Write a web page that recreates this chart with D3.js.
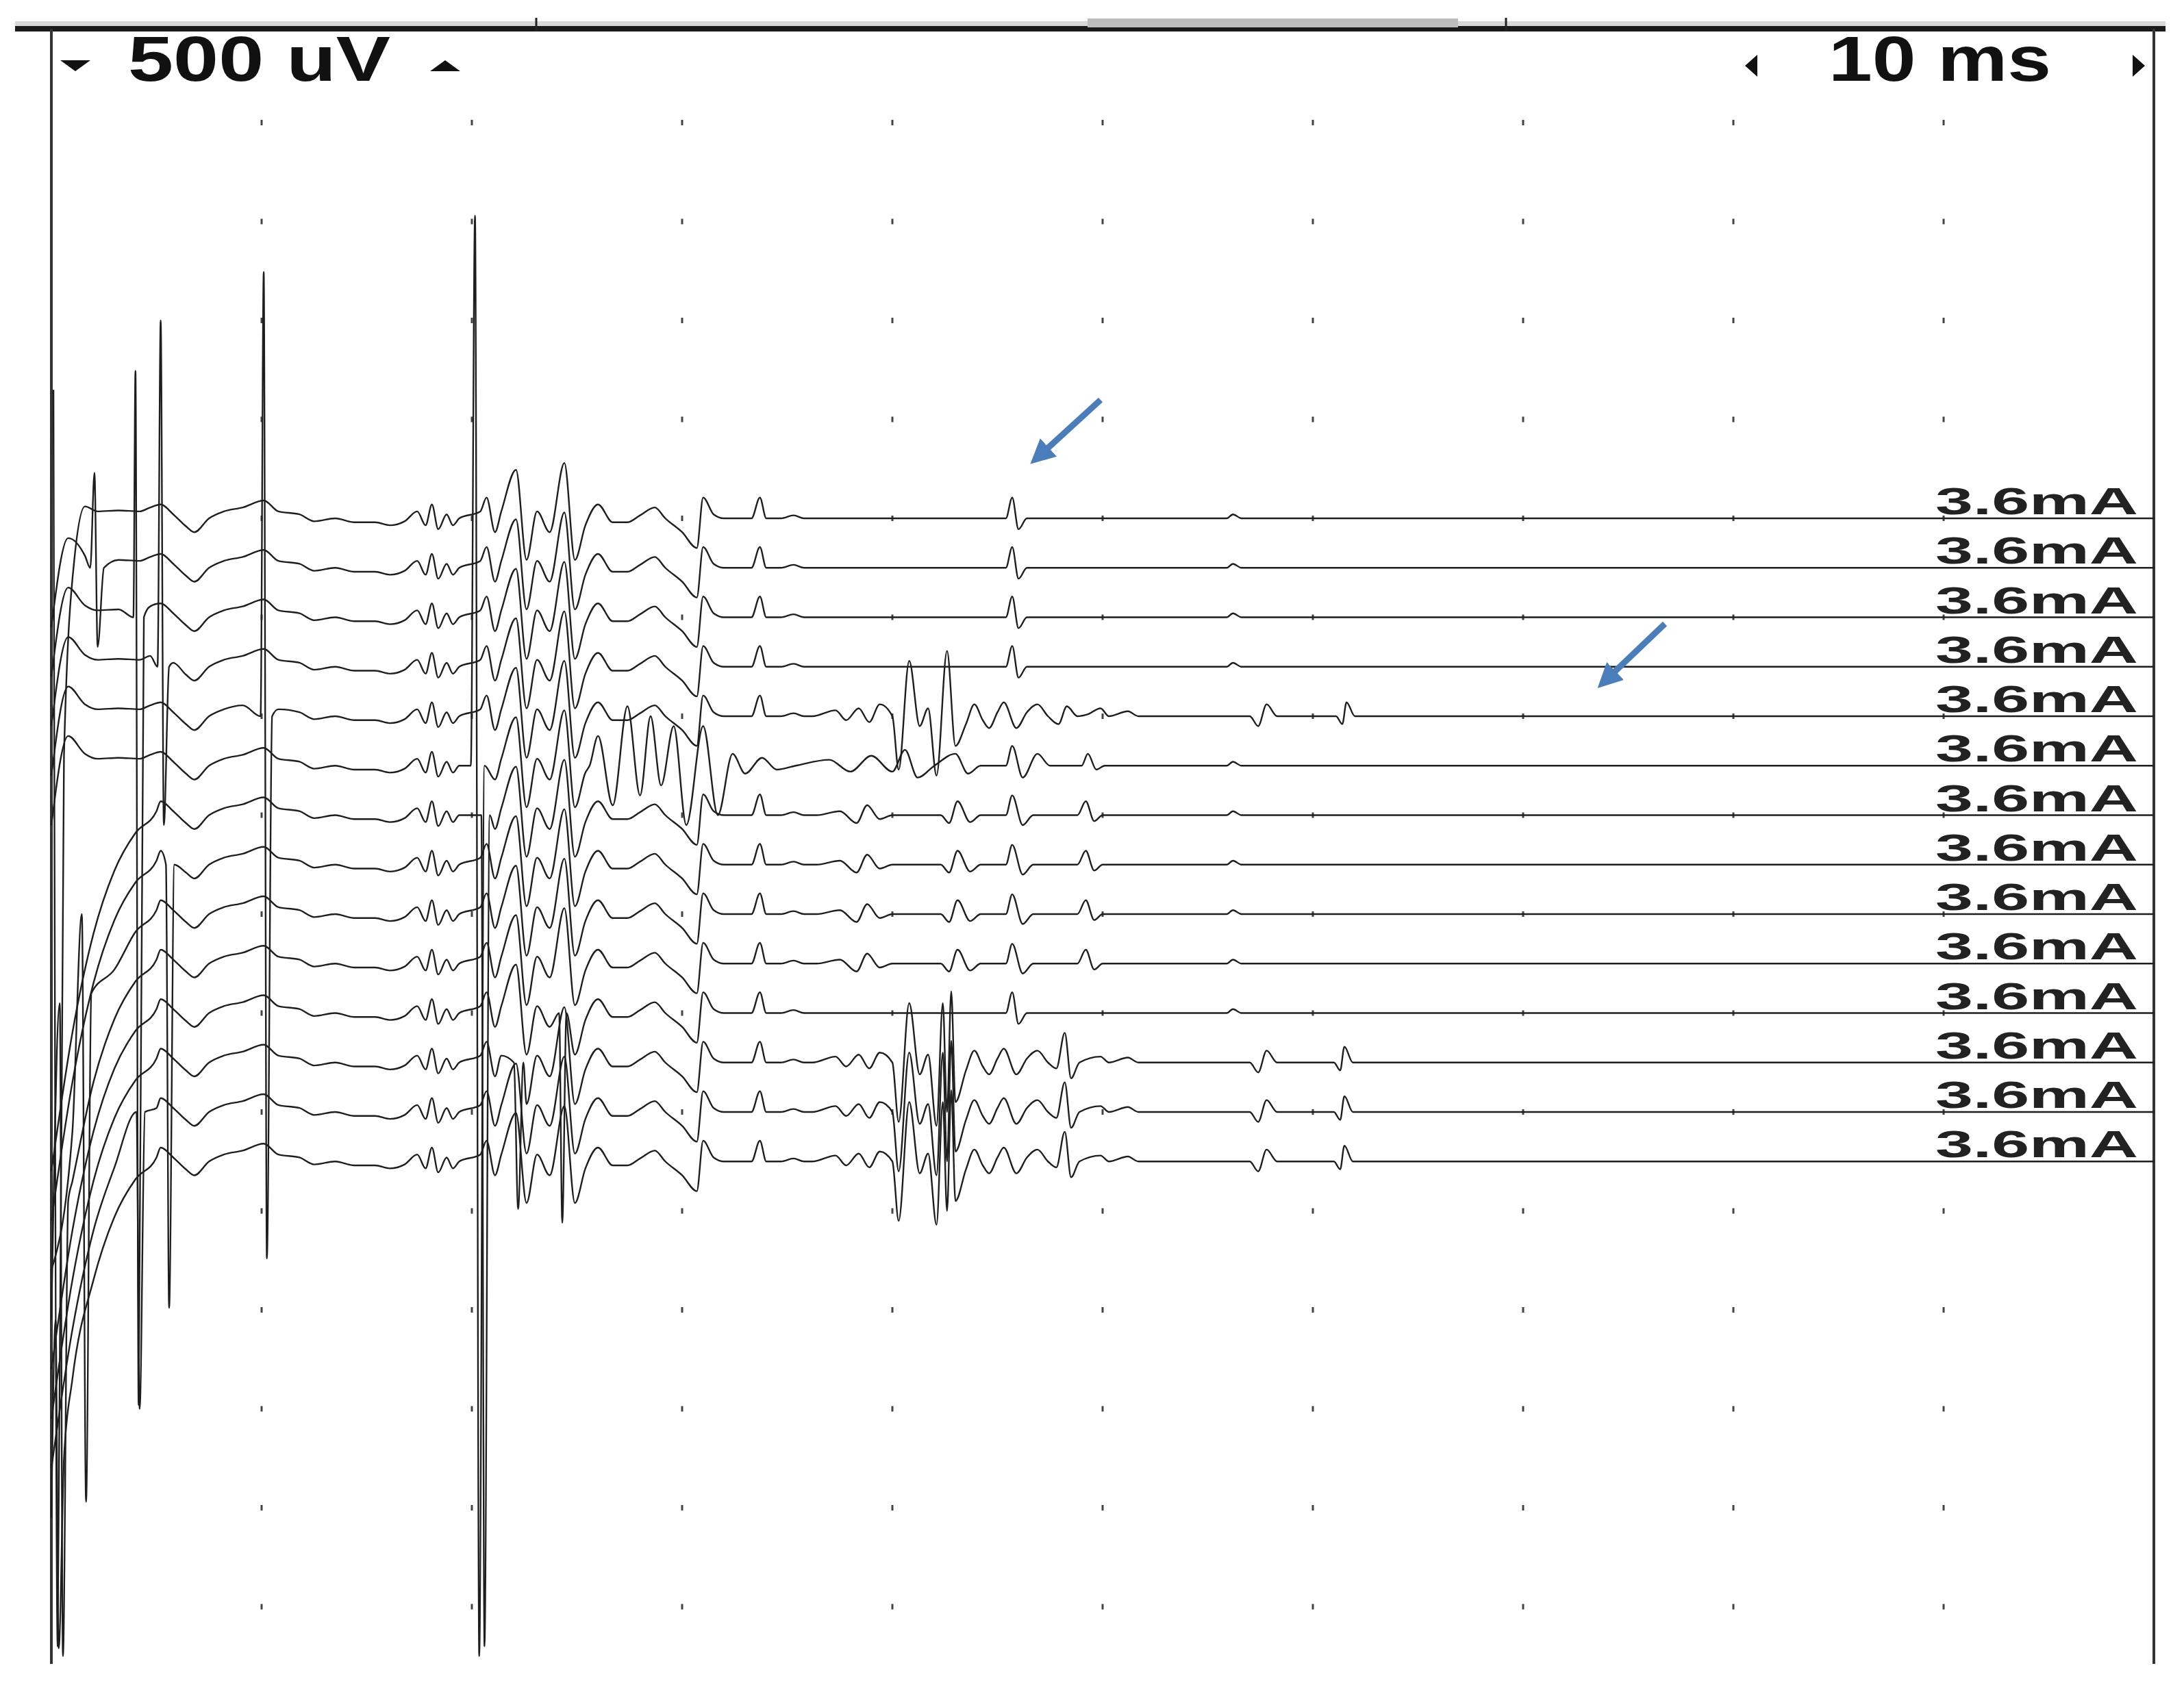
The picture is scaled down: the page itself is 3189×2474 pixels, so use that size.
<!DOCTYPE html>
<html>
<head>
<meta charset="utf-8">
<script src="https://cdn.jsdelivr.net/npm/d3@7"></script>
<style>
  body { margin: 0; background: #fff; }
  svg { display: block; }
  text { font-family: "Liberation Sans", Arial, sans-serif; }
</style>
</head>
<body>
<div id="chart"></div>
<script>
// sweep: 10 ms / division, 500 uV / division
var gainLabel = '500 uV';
var sweepLabel = '10 ms';
var stimLabels = ['3.6mA','3.6mA','3.6mA','3.6mA','3.6mA','3.6mA','3.6mA','3.6mA','3.6mA','3.6mA','3.6mA','3.6mA','3.6mA','3.6mA'];
// trace baselines (uV on the display scale)
var offsets = [1500, 1250, 1000, 750, 500, 250, 0, -250, -500, -750, -1000, -1250, -1500, -1750];
var xTicks = [10, 20, 30, 40, 50, 60, 70, 80, 90];
var yTicks = [3500, 3000, 2500, 2000, 1500, 1000, 500, 0, -500, -1000, -1500, -2000, -2500, -3000, -3500, -4000];

// common response [ms, uV]
var base = [[2.2,35],[3.2,40],[4.2,35],[4.7,55],[5.2,70],[5.8,20],[6.4,-40],[6.8,-70],[7.5,0],[8.2,35],[9.1,55],[10.1,90],[10.8,35],[11.8,20],[12.5,-15],[13.5,0],[14.4,-20],[15.4,-20],[16.1,-35],[16.8,-15],[17.4,35],[17.8,-35],[18.1,70],[18.4,-55],[18.8,20],[19.1,-35],[19.4,0],[20.4,35],[20.7,105],[21.1,-70],[21.4,35],[22.1,245],[22.6,-210],[23.1,35],[23.7,-70],[24.4,280],[24.9,-210],[25.4,-35],[26.0,70],[26.7,-20],[27.4,-20],[28.0,15],[28.7,55],[29.2,0],[30.0,-70],[30.7,-150],[31.0,105],[31.5,20],[32.0,0],[32.7,0],[33.3,0],[33.7,105],[34.0,0],[34.7,0],[35.3,15],[35.8,0],[45.4,0],[45.7,105],[46.0,-55],[46.4,0],[55.9,0],[56.2,20],[56.6,0],[100,0]];

// onset of upper traces / lower traces
var earlyUpper = [[0,-300],[0.8,150],[1.6,60]];
var earlyLower = [[0,-1800],[1.0,-1100],[2.0,-600],[3.0,-280],[4.0,-90],[5.0,20]];

// late activity
var burstLong = [[36.2,0],[37.3,30],[37.8,-20],[38.4,40],[38.9,-30],[39.4,60],[40.0,0],[40.3,-270],[40.8,280],[41.3,-50],[41.7,40],[42.1,-300],[42.6,330],[43.0,-150],[43.5,-40],[43.9,60],[44.3,-20],[44.6,-60],[45.0,20],[45.3,70],[45.9,-60],[46.4,20],[46.9,60],[47.4,0],[47.9,-40],[48.3,50],[48.8,0],[49.3,10],[49.9,40],[50.3,0],[51.2,25],[51.7,0],[57.0,0],[57.4,-50],[57.8,60],[58.3,0],[61.1,0],[61.4,-40],[61.6,70],[62.0,0]];
var burstLower = [[36.2,0],[37.3,30],[37.8,-20],[38.4,40],[38.9,-30],[39.4,50],[40.0,0],[40.3,-300],[40.8,300],[41.3,-60],[41.7,40],[42.1,-320],[42.4,300],[42.6,-250],[42.8,360],[43.0,-200],[43.5,-40],[43.9,60],[44.3,-20],[44.6,-60],[45.0,20],[45.3,70],[45.9,-60],[46.4,20],[46.9,60],[47.4,0],[47.8,-30],[48.2,150],[48.5,-80],[48.9,0],[49.9,30],[50.3,0],[51.2,25],[51.7,0],[57.0,0],[57.4,-50],[57.8,60],[58.3,0],[61.0,0],[61.3,-40],[61.5,80],[61.9,0]];
var tailMid = [[36.4,0],[37.5,20],[38.3,-40],[38.8,50],[39.4,-20],[40.0,0],[42.3,0],[42.7,-40],[43.1,70],[43.7,-35],[44.2,0],[45.4,0],[45.7,100],[46.2,-50],[46.7,0],[48.8,0],[49.2,70],[49.6,-30],[50.0,0]];
var trace6Mid = [[25.6,0],[26.0,150],[26.7,-200],[27.4,300],[28.0,-150],[28.5,250],[29.0,-100],[29.6,200],[30.2,-300],[31.0,200],[31.7,-250],[32.4,60],[33.0,-40],[33.8,40],[34.5,-20],[35.4,0],[37.0,30],[38.0,-30],[39.0,50],[40.0,-30],[40.6,80],[41.2,-60],[42.0,0],[43.0,60],[43.6,-40],[44.2,0],[45.4,0],[45.7,100],[46.2,-60],[46.9,60],[47.5,0],[49.0,0],[49.3,60],[49.7,-20],[50.1,0]];

// stimulus artefacts per trace
var spikes = [
  [[0.1,650],[0.3,-5700],[0.6,-1200],[1.1,-200]],
  [[1.85,0],[2.05,480],[2.2,-400],[2.5,0]],
  [[3.9,0],[4.0,1245],[4.15,-3980],[4.4,0]],
  [[5.05,0],[5.2,1750],[5.35,-800],[5.6,0]],
  [[9.95,0],[10.1,2245],[10.25,-2740],[10.5,0]],
  [[19.95,0],[20.15,2780],[20.35,-4500],[20.6,0]],
  [[20.45,0],[20.6,-4200],[20.85,0]],
  [[5.45,0],[5.6,-2240],[5.85,0]],
  [[1.45,0],[1.65,-2970],[1.9,-400]],
  [[0.4,-200],[0.55,-3500],[0.8,-1200]],
  [[24.15,0],[24.3,-1060],[24.5,0]],
  [[22.0,0],[22.2,-740],[22.45,0]],
  [[4.05,0],[4.2,-1500],[4.45,0]],
  [[0.2,-800],[0.35,-2460],[0.6,-1500]]
];
var tails = [null, null, null, null, burstLong, trace6Mid, tailMid, tailMid, tailMid, tailMid, null, burstLower, burstLower, burstLower];

function overlay(pts, seg) {
  var lo = seg[0][0] - 0.15, hi = seg[seg.length - 1][0] + 0.15;
  return pts.filter(function (p) { return p[0] < lo || p[0] > hi; }).concat(seg)
    .sort(function (a, b) { return a[0] - b[0]; });
}

var W = 3189, H = 2474;
var x = d3.scaleLinear().domain([0, 100]).range([75, 3145]);
var y = d3.scaleLinear().domain([4000, -4000]).range([34.5, 2346.5]);

var svg = d3.select('#chart').append('svg').attr('width', W).attr('height', H);

// frame
svg.append('rect').attr('x', 22).attr('y', 31).attr('width', 3140).attr('height', 15).attr('fill', '#d8d8d8');
svg.append('rect').attr('x', 22).attr('y', 38).attr('width', 3140).attr('height', 8).attr('fill', '#1a1a1a');
svg.append('rect').attr('x', 1588).attr('y', 27).attr('width', 541).attr('height', 13).attr('fill', '#bdbdbd');
[783, 2199].forEach(function (d) {
  svg.append('line').attr('x1', d).attr('x2', d).attr('y1', 26).attr('y2', 46).attr('stroke', '#222').attr('stroke-width', 3);
});
svg.append('line').attr('x1', x(0)).attr('x2', x(0)).attr('y1', 42).attr('y2', 2430).attr('stroke', '#333').attr('stroke-width', 4);
svg.append('line').attr('x1', x(100)).attr('x2', x(100)).attr('y1', 42).attr('y2', 2430).attr('stroke', '#333').attr('stroke-width', 4);

// dot grid
var dots = [];
xTicks.forEach(function (t) { yTicks.forEach(function (v) { dots.push([t, v]); }); });
svg.append('g').selectAll('rect').data(dots).enter().append('rect')
  .attr('x', function (d) { return x(d[0]) - 1.5; })
  .attr('y', function (d) { return y(d[1]) - 4; })
  .attr('width', 3).attr('height', 8).attr('fill', '#444');

// header
var hdr = svg.append('g').attr('font-size', 92).attr('font-weight', 'bold').attr('fill', '#111');
hdr.append('text').attr('x', 187).attr('y', 118).attr('textLength', 383).attr('lengthAdjust', 'spacingAndGlyphs').text(gainLabel);
hdr.append('text').attr('x', 2670).attr('y', 118).attr('textLength', 325).attr('lengthAdjust', 'spacingAndGlyphs').text(sweepLabel);
hdr.append('path').attr('d', 'M88,88 L132,88 L110,104 Z').attr('fill', '#111');
hdr.append('path').attr('d', 'M628,104 L672,104 L650,88 Z').attr('fill', '#111');
hdr.append('path').attr('d', 'M2566,80 L2566,112 L2548,96 Z').attr('fill', '#111');
hdr.append('path').attr('d', 'M3114,80 L3114,112 L3132,96 Z').attr('fill', '#111');

// traces
var line = d3.line()
  .x(function (d) { return x(d[0]); })
  .y(function (d) { return y(d[1]); })
  .curve(d3.curveMonotoneX);

offsets.forEach(function (off, i) {
  var pts = base.slice();
  pts = overlay(pts, i < 6 ? earlyUpper : earlyLower);
  if (tails[i]) pts = overlay(pts, tails[i]);
  pts = overlay(pts, spikes[i]);
  var shifted = pts.map(function (p) { return [p[0], p[1] + off]; });
  svg.append('path').datum(shifted).attr('d', line)
    .attr('fill', 'none').attr('stroke', '#1e1e1e').attr('stroke-width', 2.4);
  svg.append('text').attr('x', 2826).attr('y', y(off) - 6)
    .attr('textLength', 296).attr('lengthAdjust', 'spacingAndGlyphs')
    .attr('font-size', 56).attr('font-weight', 'bold').attr('fill', '#222')
    .text(stimLabels[i]);
});

// annotation arrows
svg.append('defs').append('marker').attr('id', 'ah').attr('viewBox', '0 0 10 10')
  .attr('refX', 6).attr('refY', 5).attr('markerWidth', 4).attr('markerHeight', 4).attr('orient', 'auto')
  .append('path').attr('d', 'M0,0 L10,5 L0,10 Z').attr('fill', '#4a7ebb');
[[1607, 584, 1515, 668], [2431, 911, 2343, 995]].forEach(function (a) {
  svg.append('line').attr('x1', a[0]).attr('y1', a[1]).attr('x2', a[2]).attr('y2', a[3])
    .attr('stroke', '#4a7ebb').attr('stroke-width', 9).attr('marker-end', 'url(#ah)');
});
</script>
</body>
</html>
